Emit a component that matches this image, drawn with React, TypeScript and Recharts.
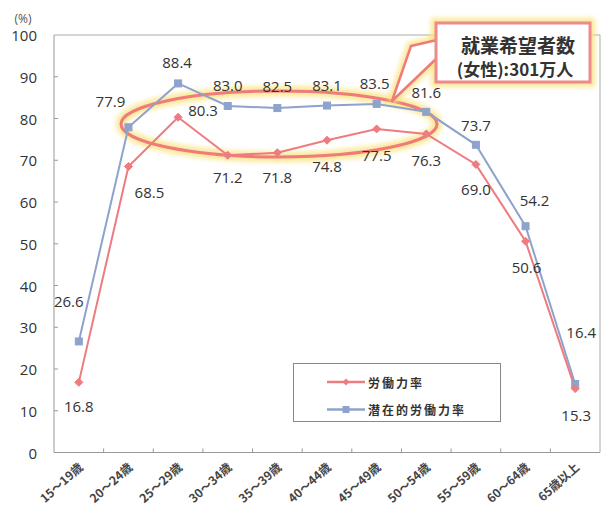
import React from 'react';
import { LineChart, Line, XAxis, YAxis, LabelList, Legend, Customized } from 'recharts';

const CATEGORIES = ['15～19歳', '20～24歳', '25～29歳', '30～34歳', '35～39歳', '40～44歳', '45～49歳', '50～54歳', '55～59歳', '60～64歳', '65歳以上'];
const LABOR_RATE = [16.8, 68.5, 80.3, 71.2, 71.8, 74.8, 77.5, 76.3, 69.0, 50.6, 15.3];
const POTENTIAL_RATE = [26.6, 77.9, 88.4, 83.0, 82.5, 83.1, 83.5, 81.6, 73.7, 54.2, 16.4];
const Y_TICKS = [0, 10, 20, 30, 40, 50, 60, 70, 80, 90, 100];
const SERIES_NAMES = ['労働力率', '潜在的労働力率'];
const CALLOUT_LINES = ['就業希望者数', '(女性):301万人'];

const data = CATEGORIES.map((c, i) => ({ cat: c, labor: LABOR_RATE[i], potential: POTENTIAL_RATE[i] }));

// label offsets (layout only)
const LABOR_OFF = [[0, 24], [21, 25], [25, -7], [0, 22], [0, 24], [0, 26], [0, 26], [0, 26], [0, 25], [1, 26], [1, 26]];
const POT_OFF = [[-10, -40], [-18, -26], [-1, -21], [0, -21], [0, -22], [0, -21], [-2, -21], [0, -20], [0, -20], [9, -26], [6, -52]];

const RED = '#ee7b80';
const BLUE = '#8ea3cc';
const TEXT = '#333';
const NUM_FONT = '"Open Sans", "DejaVu Sans", sans-serif';
const CJK_FONT = '"Noto Sans CJK JP", "Noto Sans", sans-serif';

const makeLabel = (offs: number[][]) => (props: any) => {
  const { x, y, value, index } = props;
  const o = offs[index] || [0, 0];
  return (
    <text x={x + o[0]} y={y + o[1]} textAnchor="middle" dominantBaseline="central" fontSize={15} fontFamily={NUM_FONT} fill={TEXT}>
      {Number(value).toFixed(1)}
    </text>
  );
};

const Diamond = (props: any) => {
  const { cx, cy, index } = props;
  if (cx == null || cy == null) return <g key={index} />;
  const r = 4;
  return <path key={`d${index}`} d={`M${cx},${cy - r}L${cx + r},${cy}L${cx},${cy + r}L${cx - r},${cy}Z`} fill={RED} stroke={RED} strokeWidth={1} />;
};

const Square = (props: any) => {
  const { cx, cy, index } = props;
  if (cx == null || cy == null) return <g key={index} />;
  const r = 3.5;
  return <rect key={`s${index}`} x={cx - r} y={cy - r} width={2 * r} height={2 * r} fill={BLUE} stroke={BLUE} strokeWidth={1} />;
};

const YTick = (props: any) => {
  const { x, y, payload } = props;
  return (
    <g>
      {payload.value !== 0 && payload.value !== 100 && <line x1={x} x2={x + 4} y1={y} y2={y} stroke="#999" strokeWidth={1} />}
      <text x={37} y={y} textAnchor="end" dominantBaseline="central" fontSize={15} fontFamily={NUM_FONT} fill={TEXT}>
        {payload.value}
      </text>
    </g>
  );
};

const BAND = 546 / 11;

const XTick = (props: any) => {
  const { x, y, payload, index } = props;
  const tx = x + 5;
  const ty = y + 16;
  return (
    <g>
      {index < CATEGORIES.length - 1 && <line x1={x + BAND / 2} x2={x + BAND / 2} y1={y} y2={y - 4} stroke="#999" strokeWidth={1} />}
      <text x={tx} y={ty} textAnchor="end" transform={`rotate(-42 ${tx} ${ty})`} fontSize={12} fontWeight="bold" fontFamily={CJK_FONT} fill="#444">
        {payload.value}
      </text>
    </g>
  );
};

const renderLegend = (props: any) => {
  const payload = props.payload || [];
  return (
    <svg width={208} height={59} style={{ display: 'block' }}>
      <rect x={0.5} y={0.5} width={207} height={58} fill="#fff" stroke="#888" strokeWidth={1} />
      {payload.map((p: any, i: number) => {
        const cy = 19 + i * 27.5;
        const col = p.color;
        const r = 3.5;
        return (
          <g key={i}>
            <line x1={34} x2={72} y1={cy} y2={cy} stroke={col} strokeWidth={2.5} />
            {i === 0 ? (
              <path d={`M53,${cy - r}L${53 + r},${cy}L53,${cy + r}L${53 - r},${cy}Z`} fill={col} />
            ) : (
              <rect x={53 - r} y={cy - r} width={2 * r} height={2 * r} fill={col} />
            )}
            <text x={75} y={cy} dominantBaseline="central" fontSize={12} fontWeight="bold" letterSpacing={2} fontFamily={CJK_FONT} fill={TEXT}>
              {p.value}
            </text>
          </g>
        );
      })}
    </svg>
  );
};

const Annotations = () => (
  <g>
    <defs>
      <filter id="glow" x="-20%" y="-50%" width="140%" height="200%">
        <feGaussianBlur stdDeviation="2.5" />
      </filter>
    </defs>
    {/* plot frame */}
    <polyline points="54,35 600,35 600,452.5" fill="none" stroke="#aaa" strokeWidth={1} />
    <text x={23} y={18} textAnchor="middle" dominantBaseline="central" fontSize={12} fontFamily={NUM_FONT} fill="#555">(%)</text>
    {/* ellipse highlight */}
    <ellipse cx={279} cy={124} rx={158} ry={33} fill="none" stroke="#f9e27a" strokeWidth={10} opacity={0.8} filter="url(#glow)" />
    <ellipse cx={279} cy={124} rx={158} ry={33} fill="none" stroke="#ef7b7b" strokeWidth={3} />
    {/* callout */}
    <g>
      <polygon points="437,40 411,46 392,101 437,58" fill="none" stroke="#f9e27a" strokeWidth={9} opacity={0.8} filter="url(#glow)" />
      <rect x={436} y={23} width={154} height={59} fill="none" stroke="#f9e27a" strokeWidth={10} opacity={0.8} filter="url(#glow)" />
      <polygon points="437,40 411,46 392,101 437,58" fill="#fff" stroke="#ef7b7b" strokeWidth={2.5} strokeLinejoin="round" />
      <rect x={436} y={23} width={154} height={59} fill="#fff" stroke="#ef8a8a" strokeWidth={3} />
      <text x={518} y={44} textAnchor="middle" dominantBaseline="central" fontSize={19} fontWeight="bold" fontFamily={CJK_FONT} fill={TEXT}>
        {CALLOUT_LINES[0]}
      </text>
      <text x={515} y={68} textAnchor="middle" dominantBaseline="central" fontSize={17} fontWeight="bold" fontFamily={CJK_FONT} fill={TEXT}>
        {CALLOUT_LINES[1]}
      </text>
    </g>
  </g>
);

export default function App() {
  return (
    <div style={{ position: 'absolute', left: 0, top: 0, width: 605, height: 507, background: '#fff' }}>
      <LineChart width={605} height={507} data={data} margin={{ top: 35, right: 5, bottom: 24.5, left: 0 }}>
        <XAxis
          dataKey="cat"
          scale="band"
          interval={0}
          height={30}
          tick={<XTick />}
          tickLine={false}
          tickSize={0}
          tickMargin={0}
          axisLine={{ stroke: '#999', strokeWidth: 1 }}
        />
        <YAxis
          domain={[0, 100]}
          ticks={Y_TICKS}
          width={54}
          tick={<YTick />}
          tickLine={false}
          tickSize={0}
          tickMargin={0}
          axisLine={{ stroke: '#999', strokeWidth: 1 }}
          interval={0}
        />
        <Legend
          layout="vertical"
          align="center"
          verticalAlign="middle"
          content={renderLegend}
          wrapperStyle={{ position: 'absolute', left: 293, top: 363, width: 208, height: 59 }}
        />
        <Line
          type="linear"
          dataKey="potential"
          name={SERIES_NAMES[1]}
          stroke={BLUE}
          strokeWidth={2}
          dot={Square}
          isAnimationActive={false}
          legendType="square"
        >
          <LabelList dataKey="potential" content={makeLabel(POT_OFF)} />
        </Line>
        <Line
          type="linear"
          dataKey="labor"
          name={SERIES_NAMES[0]}
          stroke={RED}
          strokeWidth={2}
          dot={Diamond}
          isAnimationActive={false}
          legendType="diamond"
        >
          <LabelList dataKey="labor" content={makeLabel(LABOR_OFF)} />
        </Line>
        <Customized component={Annotations} />
      </LineChart>
    </div>
  );
}
